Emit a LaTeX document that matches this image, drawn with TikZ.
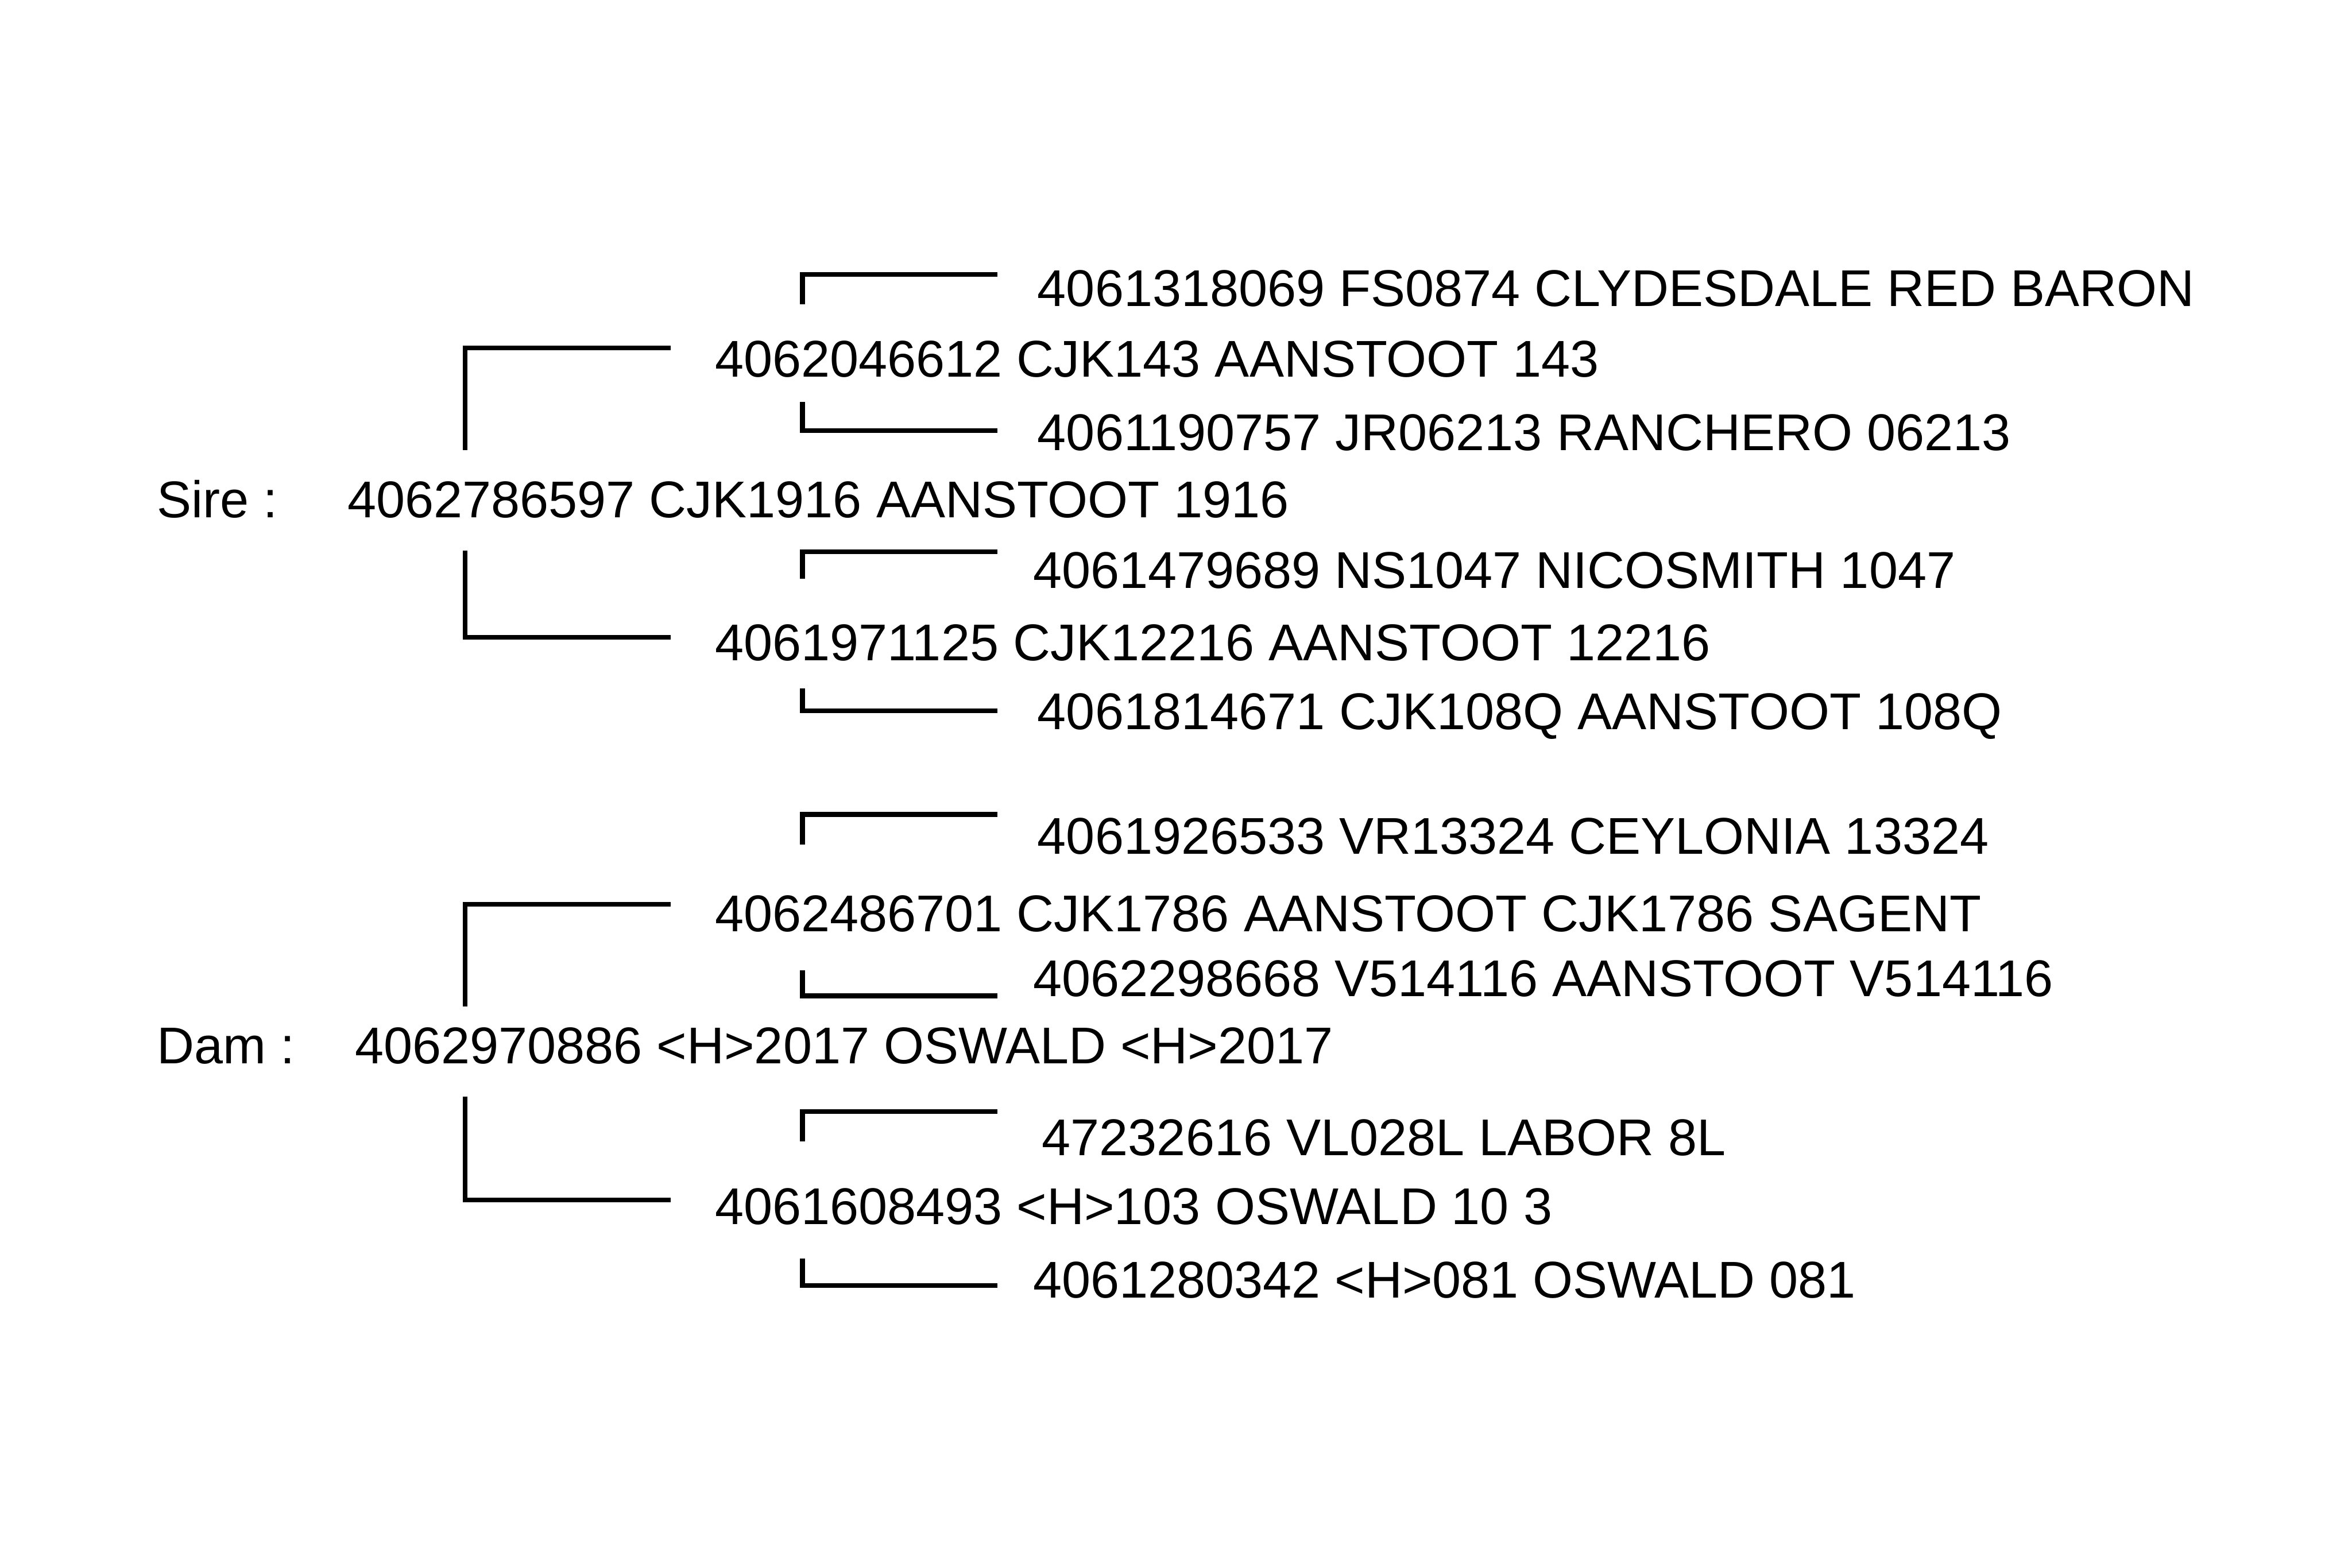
\documentclass[tikz,border=0pt]{standalone}
\usepackage{fontspec}
\setmainfont{Liberation Sans}
\usetikzlibrary{calc}

\begin{document}
\begin{tikzpicture}[
	x=0.01cm, y=-0.01cm,
	animal/.style={anchor=west, inner sep=0pt, text height=7pt, text depth=0pt, font=\fontsize{9.8}{11}\selectfont},
	label/.style={animal},
	link/.style={line width=0.9pt},
]
	\useasboundingbox (0, 0) rectangle (1568, 1045.3);

	% Sire side: parent, grandparents, great-grandparents
	\node[label] (sirelbl) at (104, 333) {Sire :};
	\node[animal] (sire) at (231, 333) {4062786597 CJK1916 AANSTOOT 1916};
	\node[animal] (ss) at (476, 239) {4062046612 CJK143 AANSTOOT 143};
	\node[animal] (sss) at (691, 192) {4061318069 FS0874 CLYDESDALE RED BARON};
	\node[animal] (ssd) at (691, 288) {4061190757 JR06213 RANCHERO 06213};
	\node[animal] (sd) at (476, 428) {4061971125 CJK12216 AANSTOOT 12216};
	\node[animal] (sds) at (688, 380) {4061479689 NS1047 NICOSMITH 1047};
	\node[animal] (sdd) at (691, 474) {4061814671 CJK108Q AANSTOOT 108Q};

	% Dam side
	\node[label] (damlbl) at (104, 697) {Dam :};
	\node[animal] (dam) at (236, 697) {4062970886 <H>2017 OSWALD <H>2017};
	\node[animal] (ds) at (476, 609) {4062486701 CJK1786 AANSTOOT CJK1786 SAGENT};
	\node[animal] (dss) at (691, 557) {4061926533 VR13324 CEYLONIA 13324};
	\node[animal] (dsd) at (688, 652) {4062298668 V514116 AANSTOOT V514116};
	\node[animal] (dd) at (476, 804) {4061608493 <H>103 OSWALD 10 3};
	\node[animal] (dds) at (694, 758) {47232616 VL028L LABOR 8L};
	\node[animal] (ddd) at (688, 853) {4061280342 <H>081 OSWALD 081};

	% Brackets from each animal to its sire (up) and dam (down)
	\foreach \p/\c/\dx/\dy/\ex/\ey in {
		sire/ss/79/-33/-29/-7, sire/sd/79/34/-29/-3,
		ss/sss/59/-36/-26/-9, ss/ssd/59/29/-26/-1,
		sd/sds/59/-42/-23/-12, sd/sdd/59/31/-26/0,
		dam/ds/74/-26/-29/-6, dam/dd/74/34/-29/-4,
		ds/dss/59/-46/-26/-14, ds/dsd/59/38/-23/12,
		dd/dds/59/-43/-29/-17, dd/ddd/59/35/-23/4} {
		\draw[link] ($ (\p.west) + (\dx, \dy) $) |- ($ (\c.west) + (\ex, \ey) $);
	}
\end{tikzpicture}
\end{document}
